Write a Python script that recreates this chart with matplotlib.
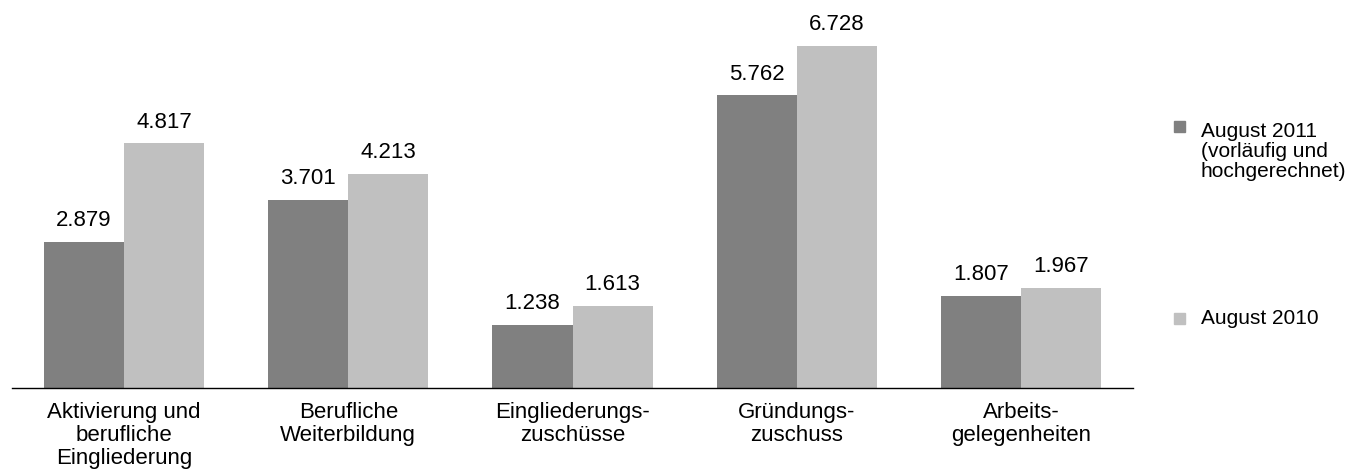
import numpy as np
import matplotlib.pyplot as plt
from matplotlib.patches import Rectangle

plt.rcParams['font.family'] = ['Liberation Sans', 'DejaVu Sans']

categories = ['Aktivierung und\nberufliche\nEingliederung', 'Berufliche\nWeiterbildung',
              'Eingliederungs-\nzuschüsse', 'Gründungs-\nzuschuss', 'Arbeits-\ngelegenheiten']
aug_2011 = [2.879, 3.701, 1.238, 5.762, 1.807]
aug_2010 = [4.817, 4.213, 1.613, 6.728, 1.967]
series_names = ['August 2011\n(vorläufig und\nhochgerechnet)', 'August 2010']
colors = ['#808080', '#c0c0c0']

fig = plt.figure(figsize=(13.63, 4.73), dpi=100)
ax = fig.add_axes([12/1363, 85/473, 1121/1363, 381/473])

x = np.arange(len(categories))
w = 80/224
for vals, off, c in [(aug_2011, -w/2, colors[0]), (aug_2010, w/2, colors[1])]:
    ax.bar(x + off, vals, w, color=c)
    for xi, v in zip(x, vals):
        ax.text(xi + off, v + 0.31, ('%.3f' % v), ha='center', va='baseline', fontsize=16)

ax.set_xlim(-0.5, 4.5)
ax.set_ylim(0, 7.5)
ax.set_yticks([])
ax.set_xticks(x)
ax.set_xticklabels(categories, fontsize=16, linespacing=1.14)
ax.tick_params(axis='x', length=0, pad=10)
for s in ['top', 'right', 'left']:
    ax.spines[s].set_visible(False)
ax.spines['bottom'].set_linewidth(1)

# legend (baseline = last line of each entry)
for name, c, ytop, ybase in zip(series_names, colors, [121, 313], [177, 324]):
    fig.patches.append(Rectangle((1174/1363, (473-ytop-11)/473), 11/1363, 11/473,
                                 color=c, transform=fig.transFigure))
    fig.text(1201/1363, (473-ybase)/473, name, ha='left', va='baseline', fontsize=15, linespacing=1.08)

fig.savefig('out.png', dpi=100)
